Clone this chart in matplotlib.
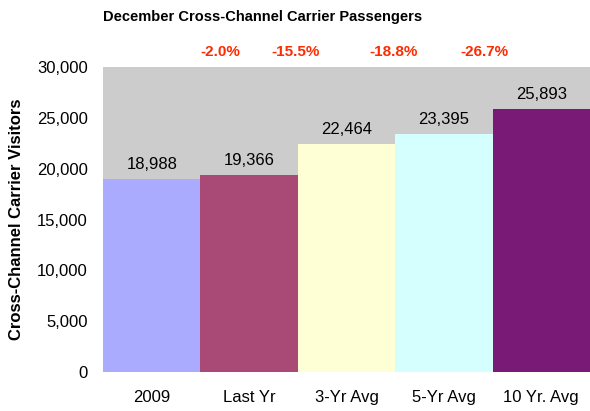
import matplotlib.pyplot as plt
from matplotlib.ticker import FuncFormatter

plt.rcParams['font.family'] = ['Liberation Sans', 'DejaVu Sans']

categories = ['2009', 'Last Yr', '3-Yr Avg', '5-Yr Avg', '10 Yr. Avg']
visitors = [18988, 19366, 22464, 23395, 25893]
bar_colors = ['#AAAAFF', '#A94A76', '#FFFFD5', '#D5FFFF', '#7A1A77']
# x positions of the change labels (in bar units)
change_x = [0.70, 1.48, 2.48, 3.41]

fig = plt.figure(figsize=(5.9, 4.11), dpi=100)
ax = fig.add_axes([0.1746, 0.0949, 0.8254, 0.742])
ax.set_facecolor('#CCCCCC')

x = range(len(categories))
ax.bar(x, visitors, width=1.0, color=bar_colors, linewidth=0)
ax.set_xlim(-0.5, len(categories) - 0.5)
ax.set_ylim(0, 30000)
ax.set_yticks(range(0, 30001, 5000))
ax.yaxis.set_major_formatter(FuncFormatter(lambda v, p: f'{int(v):,}'))
ax.set_xticks(list(x))
ax.set_xticklabels(categories)
ax.tick_params(axis='both', length=0, labelsize=12)
ax.tick_params(axis='x', pad=13)
ax.tick_params(axis='y', pad=11)
for s in ax.spines.values():
    s.set_visible(False)

for i, v in enumerate(visitors):
    ax.annotate(f'{v:,}', (i, v), xytext=(0, 5), textcoords='offset points',
                ha='center', va='bottom', fontsize=12)

# percent change of 2009 vs each comparison
for xi, ref in zip(change_x, visitors[1:]):
    pct = (visitors[0] - ref) / ref * 100
    fig.text((103 + 97.5 * (xi + 0.5)) / 590, 1 - 52 / 411, f'{pct:.1f}%',
             ha='center', va='center', color='#FF2A00', fontsize=11, fontweight='bold')

fig.text(263 / 590, 1 - 17 / 411, 'December Cross-Channel Carrier Passengers',
         ha='center', va='center', fontsize=10.5, fontweight='bold')
ax.set_ylabel('Cross-Channel Carrier Visitors', fontsize=12, fontweight='bold', labelpad=9)

fig.savefig('out.png', dpi=100)
